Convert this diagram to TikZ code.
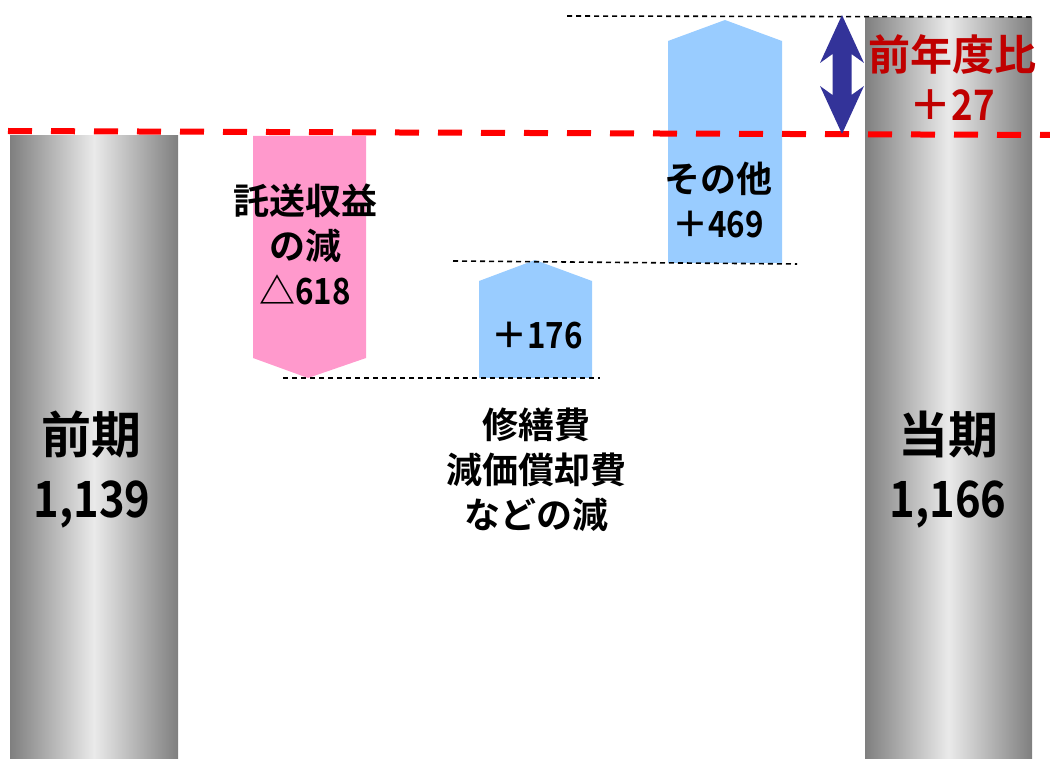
\documentclass[tikz,border=0pt]{standalone}
\usepackage{fontspec}
\setmainfont{Noto Sans CJK JP}[BoldFont={Noto Sans CJK JP Bold}]
\newfontfamily\numfont{Noto Sans CJK JP}[BoldFont={Noto Sans CJK JP Bold},FakeStretch=0.87]
\usetikzlibrary{positioning}
\definecolor{pinkbar}{HTML}{FF99CC}
\definecolor{bluebar}{HTML}{99CCFF}
\definecolor{arrowblue}{HTML}{333399}
\definecolor{darkred}{HTML}{C00000}
\definecolor{barside}{HTML}{7F7F7F}
\definecolor{barmid}{HTML}{EAEAEA}

\begin{document}
\begin{tikzpicture}[x=1pt,y=-1pt,
  txt/.style={align=center,inner sep=0pt,font=\fontsize{36}{45}\selectfont\bfseries},
  big txt/.style={align=center,inner sep=0pt,font=\fontsize{50}{64}\selectfont\bfseries},
  red txt/.style={align=center,inner sep=0pt,text=darkred,font=\fontsize{42}{50}\selectfont\bfseries},
  guide/.style={black,line width=1.6pt,dash pattern=on 5pt off 4pt},
  gray bar/.style={left color=barside,right color=barside,middle color=barmid}]

  \useasboundingbox (0,0) rectangle (1050,759);

  \shade[gray bar] (10,136) rectangle (178,759);
  \shade[gray bar] (865,18) rectangle (1032,759);

  \fill[pinkbar] (253,136) -- (366,136) -- (366,358) -- (308,378) -- (253,358) -- cycle;
  \fill[bluebar] (479,378) -- (479,281) -- (535,260) -- (592,281) -- (592,378) -- cycle;
  \fill[bluebar] (668,263) -- (668,41) -- (725,20) -- (782,41) -- (782,263) -- cycle;

  \coordinate (top l) at (567,16);
  \coordinate (top r) at (1032,17);
  \coordinate (mid l) at (453,261);
  \coordinate (mid r) at (797,264);
  \coordinate (low l) at (283,378);
  \coordinate (low r) at (600,378);
  \draw[guide] (top l) -- (top r);
  \draw[guide] (mid l) -- (mid r);
  \draw[guide] (low l) -- (low r);

  \coordinate (base l) at (8,131);
  \coordinate (base r) at (1050,135);
  \draw[red,line width=6pt,dash pattern=on 24pt off 19pt] (base l) -- (base r);

  \fill[arrowblue] (842,15) -- (864,63) -- (851.5,54) -- (851.5,95) -- (864,86)
    -- (842,134) -- (820,86) -- (832.5,95) -- (832.5,54) -- (820,63) -- cycle;

  \node[big txt] (prev) at (92,470) {前期\\{\numfont 1,139}};
  \node[big txt] (curr) at (948,470) {当期\\{\numfont 1,166}};
  \node[red txt] (diff) at (952,78) {前年度比\\＋{\numfont 27}};
  \node[txt] (toll) at (305,244) {託送収益\\の減\\△{\numfont 618}};
  \node[txt] (repair val) at (537,336) {＋{\numfont 176}};
  \node[txt] (repair) at (536,470) {修繕費\\減価償却費\\などの減};
  \node[txt] (other) at (718,200) {その他\\＋{\numfont 469}};
\end{tikzpicture}
\end{document}
